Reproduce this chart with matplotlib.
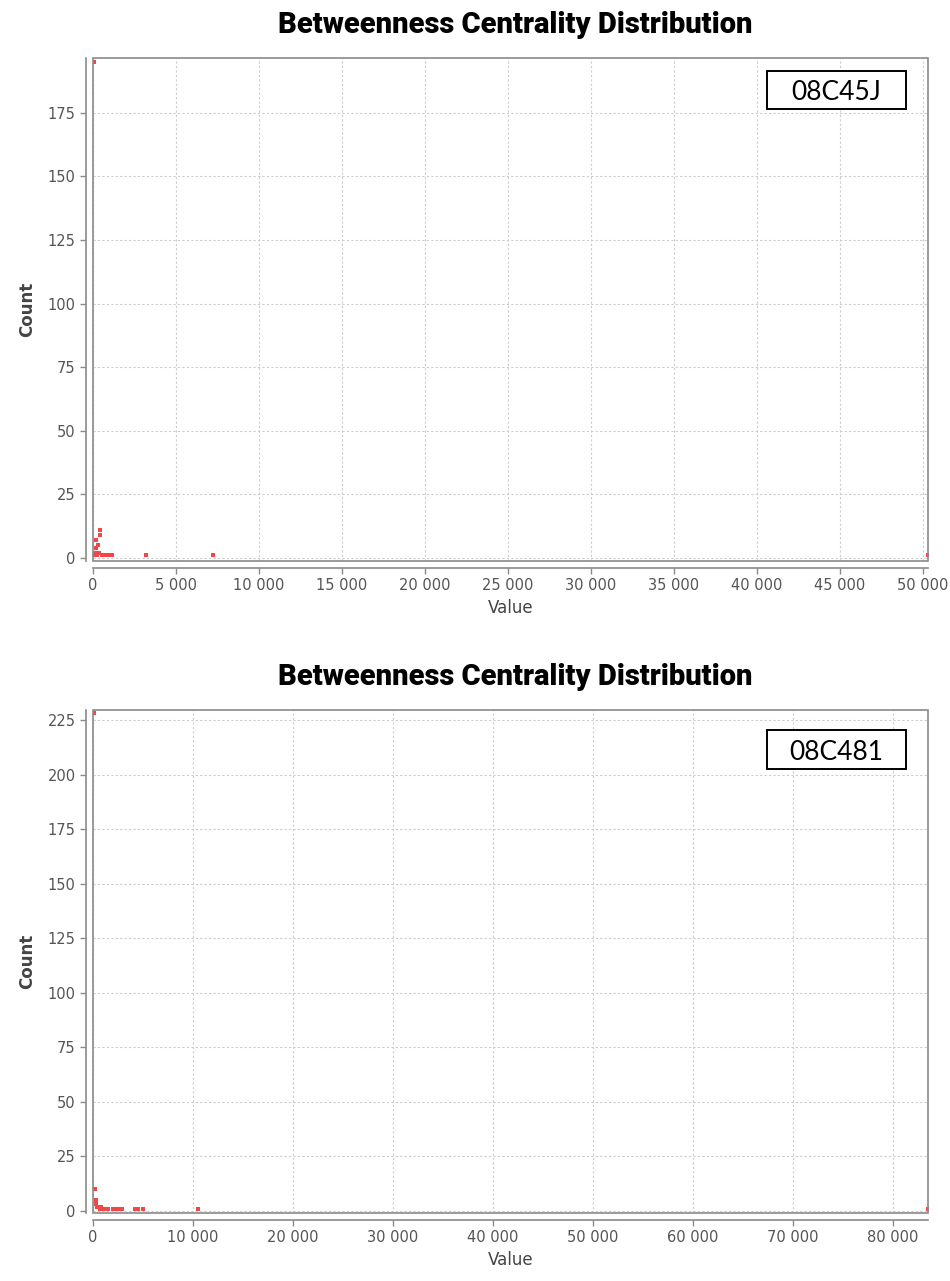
#!/usr/bin/env python3
"""Two betweenness centrality distribution scatter plots, stacked."""

import matplotlib
matplotlib.use("Agg")
import matplotlib.pyplot as plt
from matplotlib.patches import Rectangle
from matplotlib.ticker import FuncFormatter, MultipleLocator

# top panel (08C45J)
top_label = "08C45J"
top_value = [60, 40, 120, 160, 200, 260, 300, 350, 400, 450, 550, 700, 850, 1000, 1150, 3200, 7250, 50300]
top_count = [195, 1, 2, 7, 4, 1, 5, 2, 11, 9, 1, 1, 1, 1, 1, 1, 1, 1]

# bottom panel (08C481)
bot_label = "08C481"
bot_value = [60, 80, 180, 260, 330, 400, 500, 650, 800, 950, 1100, 1300, 1500, 2000,
             2300, 2600, 2900, 4200, 4500, 5000, 10500, 83500]
bot_count = [228, 10, 10, 5, 3, 2, 2, 1, 2, 1, 1, 1, 1, 1, 1, 1, 1, 1, 1, 1, 1, 1]

TITLE = "Betweenness Centrality Distribution"
W, H = 950, 1281
RED = "#ee4848"
GRID = "#cccccc"
TEXT = "#555555"


def thousands(x, _pos):
    return f"{int(round(x)):,}".replace(",", " ")


def draw_panel(fig, box, values, counts, xlim, ylim, xstep, tag, tag_box, title_y):
    left, top, right, bottom = box
    ax = fig.add_axes([left / W, 1 - bottom / H, (right - left) / W, (bottom - top) / H])
    ax.scatter(values, counts, marker="s", s=10, color=RED, linewidths=0, zorder=3)
    ax.set_xlim(*xlim)
    ax.set_ylim(*ylim)
    ax.xaxis.set_major_locator(MultipleLocator(xstep))
    ax.yaxis.set_major_locator(MultipleLocator(25))
    ax.xaxis.set_major_formatter(FuncFormatter(thousands))
    ax.grid(True, color=GRID, linestyle=(0, (2, 2)), linewidth=0.8)
    ax.set_axisbelow(True)

    for side in ("top", "right"):
        ax.spines[side].set_visible(False)
    for side in ("left", "bottom"):
        ax.spines[side].set_position(("outward", 5))
        ax.spines[side].set_color("#8a8a8a")
        ax.spines[side].set_linewidth(1.2)
    ax.add_patch(Rectangle((0, 0), 1, 1, transform=ax.transAxes, fill=False,
                           edgecolor="#8a8a8a", linewidth=1.2, clip_on=False, zorder=4))
    ax.tick_params(colors="#8a8a8a", labelcolor=TEXT, labelsize=10.5, length=4, width=1)

    ax.set_xlabel("Value", fontsize=12, color="#444444", labelpad=4)
    ax.set_ylabel("Count", fontsize=12, color="#444444", fontweight="bold", labelpad=8)

    fig.text(0.5 * (left + right) / W + 0.005, 1 - title_y / H, TITLE, ha="center", va="center",
             fontsize=21, fontweight="heavy", family="Roboto")

    # sample tag in a black framed box (pixel box converted to axes fraction)
    bx0, by0, bx1, by1 = tag_box
    x0 = (bx0 - left) / (right - left)
    x1 = (bx1 - left) / (right - left)
    y0 = (bottom - by1) / (bottom - top)
    y1 = (bottom - by0) / (bottom - top)
    ax.add_patch(Rectangle((x0, y0), x1 - x0, y1 - y0, transform=ax.transAxes,
                           facecolor="white", edgecolor="black", linewidth=1.4, zorder=5))
    ax.text((x0 + x1) / 2, (y0 + y1) / 2, tag, transform=ax.transAxes, ha="center",
            va="center_baseline", fontsize=19, family="Lato", zorder=6)
    return ax


def main():
    fig = plt.figure(figsize=(W / 100, H / 100), dpi=100)
    draw_panel(fig, (93, 58, 928, 561), top_value, top_count,
               (0, 50300), (-1.2, 196.5), 5000, top_label, (767, 71, 906, 109), 25)
    draw_panel(fig, (93, 710, 928, 1213), bot_value, bot_count,
               (0, 83500), (-0.9, 229.6), 10000, bot_label, (767, 730, 906, 769), 677)
    fig.savefig("out.png", dpi=100)
    plt.close(fig)


if __name__ == "__main__":
    main()
